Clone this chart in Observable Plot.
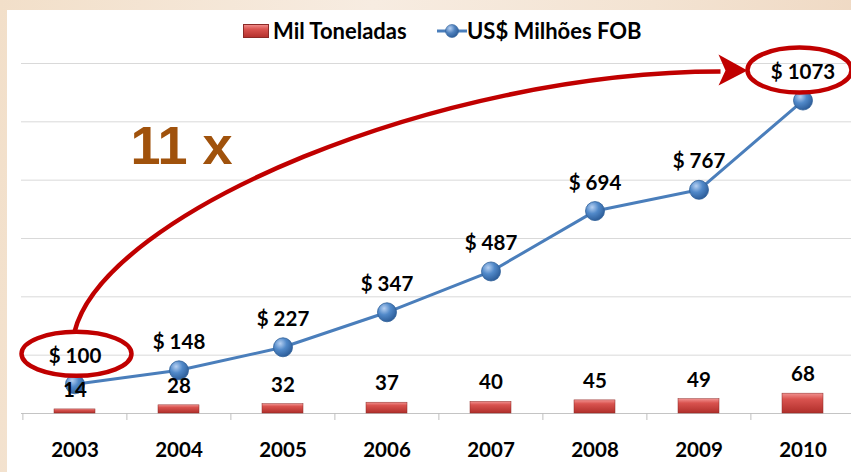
<!DOCTYPE html>
<html>
<head>
<meta charset="utf-8">
<script src="https://cdn.jsdelivr.net/npm/d3@7"></script>
<script src="https://cdn.jsdelivr.net/npm/@observablehq/plot@0.6"></script>
<style>
  html, body { margin: 0; padding: 0; }
  #page { position: relative; width: 851px; height: 472px; overflow: hidden;
    background: linear-gradient(100deg, #f2dfc9 0%, #f7ece1 40%, #f3e3d2 70%, #eed6bf 100%); }
  #panel { position: absolute; left: 7px; top: 10px; width: 844px; height: 462px; background: #ffffff; }
  #legend { position: relative; height: 40px; font-family: Lato, "Open Sans", sans-serif; font-weight: bold; font-size: 22px; color: #000; }
  .item { position: absolute; top: 7px; display: flex; align-items: center; white-space: nowrap; }
  .sw { display: inline-block; width: 26px; height: 14px; margin-right: 4px;
    background: linear-gradient(to bottom, #f08a88 0%, #d9534f 35%, #b5322e 100%); border: 0.5px solid #8c2a27; box-sizing: border-box; }
  #chart svg { overflow: visible; display: block; }
</style>
</head>
<body>
<div id="page">
  <div id="panel">
    <div id="legend"></div>
    <div id="chart"></div>
  </div>
</div>
<script>
// ---- data ----
const years = ["2003", "2004", "2005", "2006", "2007", "2008", "2009", "2010"];
const tons = [14, 28, 32, 37, 40, 45, 49, 68];            // Mil Toneladas
const usd = [100, 148, 227, 347, 487, 694, 767, 1073];    // US$ Milhões FOB
const gridValues = [200, 400, 600, 800, 1000, 1200];
const seriesNames = ["Mil Toneladas", "US$ Milhões FOB"];
const multiplierLabel = "11 x";

const data = years.map((year, i) => ({year, tons: tons[i], usd: usd[i]}));

// ---- legend (HTML, above the SVG) ----
const legend = document.getElementById("legend");
legend.innerHTML = `
  <div class="item" style="left:236px"><span class="sw"></span><span>${seriesNames[0]}</span></div>
  <div class="item" style="left:430px">
    <svg width="30" height="20">
      <defs><radialGradient id="lgDot" cx="35%" cy="30%" r="75%">
        <stop offset="0%" stop-color="#b6d0f2"/><stop offset="50%" stop-color="#4f81bd"/><stop offset="100%" stop-color="#2a5a96"/>
      </radialGradient></defs>
      <line x1="0" x2="30" y1="10" y2="10" stroke="#4a7ebb" stroke-width="3"/>
      <circle cx="15" cy="10" r="6.5" fill="url(#lgDot)" stroke="#2f5f98" stroke-width="0.6"/>
    </svg><span>${seriesNames[1]}</span></div>`;

// ---- gradient defs (function mark) ----
function defsMark() {
  const g = document.createElementNS("http://www.w3.org/2000/svg", "g");
  g.innerHTML = `<defs>
    <linearGradient id="barGrad" x1="0" x2="0" y1="0" y2="1">
      <stop offset="0%" stop-color="#f29290"/><stop offset="30%" stop-color="#d9534f"/><stop offset="100%" stop-color="#b02f2b"/>
    </linearGradient>
    <radialGradient id="dotGrad" cx="35%" cy="30%" r="75%">
      <stop offset="0%" stop-color="#b6d0f2"/><stop offset="45%" stop-color="#5189c9"/><stop offset="100%" stop-color="#2a5a96"/>
    </radialGradient>
  </defs>`;
  return g;
}

// ---- annotations: ellipses around first/last labels and the curved arrow ----
function annotationMark(index, scales) {
  const {x, y} = scales;
  const bw = x.bandwidth ? x.bandwidth() : 0;
  const cx = v => x(v) + bw / 2;
  const first = data[0], last = data[data.length - 1];
  const e1 = {x: cx(first.year) + 2, y: y(first.usd) - 30, rx: 55, ry: 22};
  const e2 = {x: cx(last.year) - 3, y: y(last.usd) - 30, rx: 52, ry: 22.5};
  const tip = [e2.x - e2.rx, e2.y + 0.5];
  const p0 = [e1.x - 2, e1.y - e1.ry];
  const p3 = [tip[0] - 27, tip[1] + 1];
  const p1 = [p0[0] + 30, p0[1] - 120];
  const p2 = [p3[0] - 280, p3[1]];
  const red = "#c00000";
  const g = document.createElementNS("http://www.w3.org/2000/svg", "g");
  g.innerHTML = `
    <ellipse cx="${e1.x}" cy="${e1.y}" rx="${e1.rx}" ry="${e1.ry}" fill="none" stroke="${red}" stroke-width="4.5"/>
    <ellipse cx="${e2.x}" cy="${e2.y}" rx="${e2.rx}" ry="${e2.ry}" fill="none" stroke="${red}" stroke-width="4.5"/>
    <path d="M${p0}C${p1} ${p2} ${p3}" fill="none" stroke="${red}" stroke-width="4.5"/>
    <path d="M${tip[0]},${tip[1]}L${tip[0] - 29},${tip[1] - 16}L${tip[0] - 22},${tip[1]}L${tip[0] - 29},${tip[1] + 15}Z" fill="${red}"/>`;
  return g;
}

const W = 844, H = 422;
const FONT = "Lato, 'Open Sans', sans-serif";
const plot = Plot.plot({
  width: W,
  height: H,
  marginTop: 13,
  marginBottom: 59,
  marginLeft: 14,
  marginRight: -4,
  style: {fontFamily: FONT, color: "#000", background: "transparent", overflow: "visible"},
  x: {domain: years, paddingInner: 0.607, paddingOuter: 0.3035, label: null},
  y: {domain: [0, 1200], axis: null},
  marks: [
    defsMark,
    Plot.ruleY(gridValues, {stroke: "#d9d9d9", strokeWidth: 1}),
    Plot.ruleY([0], {stroke: "#c4c4c4", strokeWidth: 1}),
    Plot.axisX({tickSize: 7, tickFormat: () => "", dx: -52.125, stroke: "#bfbfbf"}),
    Plot.axisX({tickSize: 0, tickPadding: 29, fontSize: 20.5, fontWeight: "bold", fill: "#000"}),
    Plot.barY(data, {x: "year", y: "tons", fill: "url(#barGrad)", stroke: "#8c2a27", strokeWidth: 0.5}),
    Plot.line(data, {x: "year", y: "usd", stroke: "#4a7ebb", strokeWidth: 3}),
    Plot.dot(data, {x: "year", y: "usd", r: 9.5, fill: "url(#dotGrad)", stroke: "#2f5f98", strokeWidth: 0.8}),
    Plot.text(data, {x: "year", y: "tons", text: d => String(d.tons), dy: -19, fontSize: 20.5, fontWeight: "bold", fill: "#000"}),
    Plot.text(data, {x: "year", y: "usd", text: d => "$ " + d.usd, dy: -28, fontSize: 20.5, fontWeight: "bold", fill: "#000"}),
    Plot.text([multiplierLabel], {frameAnchor: "top-left", textAnchor: "middle", lineAnchor: "middle", dx: 160, dy: 83, text: d => d, fontSize: 54, fontWeight: "bold", fontFamily: "'Liberation Sans', Arial, sans-serif", fill: "#a0520c"}),
    annotationMark
  ]
});
document.getElementById("chart").appendChild(plot);
</script>
</body>
</html>
